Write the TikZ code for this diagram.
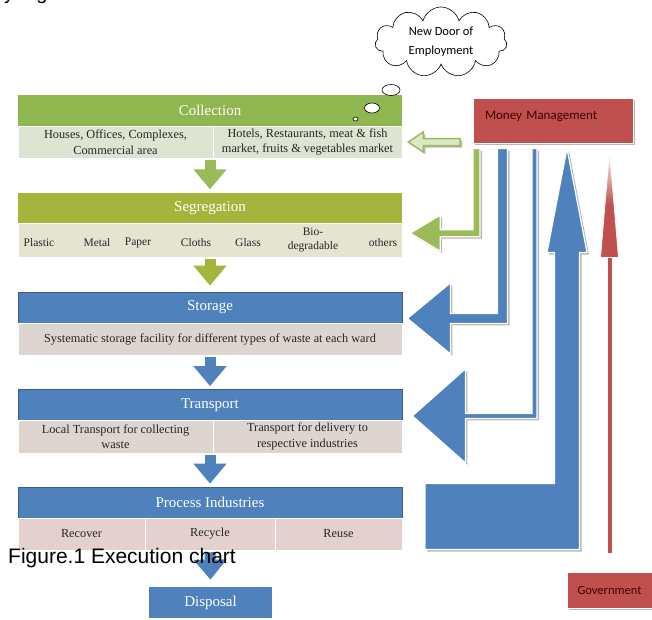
\documentclass[tikz,border=0pt]{standalone}
\usepackage{fontspec}
\setmainfont{Liberation Serif}
\newfontfamily\calibri{Carlito}
\newfontfamily\arial{Liberation Sans}
\usetikzlibrary{positioning,calc,arrows.meta,shapes.symbols,shapes.geometric,shadows}

\definecolor{headgreen}{HTML}{8FB74F}
\definecolor{headolive}{HTML}{A5B43A}
\definecolor{headblue}{HTML}{4F81BD}
\definecolor{edgeblue}{HTML}{385D8A}
\definecolor{rowgreen}{HTML}{DDE4D2}
\definecolor{rowolive}{HTML}{E4E4D0}
\definecolor{rowpink}{HTML}{DED4D0}
\definecolor{rowrose}{HTML}{E5D0D0}
\definecolor{arrowgreen}{HTML}{9BBB59}
\definecolor{moneyred}{HTML}{C0504D}

\tikzset{
	head/.style={minimum width=384pt, minimum height=31pt, inner sep=0pt, text=white, font=\fontsize{15}{15}\selectfont},
	greenhead/.style={head, fill=headgreen},
	olivehead/.style={head, fill=headolive},
	bluehead/.style={head, fill=headblue, draw=edgeblue, line width=0.8pt},
	cell/.style={minimum height=32pt, inner sep=0pt, draw=white, line width=0.5pt, align=center, text=black!85, font=\fontsize{12.3}{15.5}\selectfont},
	item/.style={inner sep=0pt, align=center, text=black!85, font=\fontsize{11.5}{13.5}\selectfont},
	downarrow/.style={line width=11pt, -{Triangle[width=32pt,length=20pt]}, shorten <=2pt, shorten >=3pt},
	sideshadow/.style={drop shadow={shadow xshift=2pt, shadow yshift=-2pt, fill=black!40, opacity=0.7}},
	sidearrow/.style={draw=white, line width=1.2pt, sideshadow},
	moneybox/.style={fill=moneyred, draw=white, line width=1pt, sideshadow, minimum width=160pt, minimum height=45pt, text width=136pt, inner xsep=12pt, text depth=10pt, align=left, text=black!75!red, font=\calibri\fontsize{13}{13}\selectfont},
	govbox/.style={fill=moneyred, draw=white, line width=1pt, sideshadow, minimum width=85pt, minimum height=36pt, inner sep=0pt, text=black!75!red, font=\calibri\fontsize{12.5}{13}\selectfont},
	thought/.style={cloud, cloud puffs=11, aspect=1.9, draw, fill=white, line width=0.6pt, minimum width=132pt, minimum height=70pt, align=center, inner sep=0pt, font=\calibri\fontsize{12.5}{19}\selectfont},
	bubble/.style={ellipse, draw, fill=white, line width=0.6pt, inner sep=0pt}
}

% block arrow going down from #2 and then left to the tip #3
\newcommand{\elbowarrow}[6]{%
	\path[#1] let \p1=#2, \p2=#3 in
		(\x1+#4,\y1) -- (\x1+#4,\y2-#4) -- (\x2+#6,\y2-#4) -- (\x2+#6,\y2-#5) -- (\p2)
		-- (\x2+#6,\y2+#5) -- (\x2+#6,\y2+#4) -- (\x1-#4,\y2+#4) -- (\x1-#4,\y1) -- cycle;}

\begin{document}
\begin{tikzpicture}[x=1pt, y=-1pt]
	\path[use as bounding box, fill=white] (0,0) rectangle (652,619);

	% text cut at the top edge
	\node[anchor=base west, inner sep=0pt, font=\arial\fontsize{20}{20}\selectfont] (cut) at (4,-1) {y Figure};

	% Collection
	\node[greenhead] (coll) at (210,110) {Collection};
	\node[cell, fill=rowgreen, minimum width=195pt] (collA) at (115.5,142) {Houses, Offices, Complexes,\\Commercial area};
	\node[cell, fill=rowgreen, minimum width=189pt] (collB) at (307.5,142) {Hotels, Restaurants, meat \& fish\\market, fruits \& vegetables market};

	% Segregation
	\node[olivehead] (seg) at (210,208) {Segregation};
	\node[cell, fill=rowolive, minimum width=384pt, minimum height=34pt] (segrow) at (210,240) {};
	\node[item] (plastic) at (39,243) {Plastic};
	\node[item] (metal) at (97,243) {Metal};
	\node[item] (paper) at (138,243) {Paper};
	\node[item] (cloths) at (196,243) {Cloths};
	\node[item] (glass) at (248,243) {Glass};
	\node[item] (bio) at (313,240) {Bio-\\degradable};
	\node[item] (others) at (383,243) {others};

	% Storage
	\node[bluehead] (stor) at (210,307.5) {Storage};
	\node[cell, fill=rowpink, minimum width=384pt] (storrow) at (210,339) {Systematic storage facility for different types of waste at each ward};

	% Transport
	\node[bluehead] (trans) at (210,405) {Transport};
	\node[cell, fill=rowpink, minimum width=195pt, minimum height=33pt] (transA) at (115.5,436.5) {Local Transport for collecting\\waste};
	\node[cell, fill=rowpink, minimum width=189pt, minimum height=33pt] (transB) at (307.5,436.5) {Transport for delivery to\\respective industries};

	% Process Industries
	\node[bluehead] (proc) at (210,502.5) {Process Industries};
	\node[cell, fill=rowrose, minimum width=127pt] (recover) at (81.5,534) {Recover};
	\node[cell, fill=rowrose, minimum width=130pt] (recycle) at (210,534) {Recycle};
	\node[cell, fill=rowrose, minimum width=127pt] (reuse) at (338.5,534) {Reuse};

	\node[bluehead, draw=none, minimum width=123pt] (disp) at (210.5,602.5) {Disposal};

	% arrows down the chart
	\draw[downarrow, arrowgreen] (coll |- collA.south) -- (seg.north);
	\draw[downarrow, headolive, shorten >=6pt] (segrow.south) -- (stor.north);
	\draw[downarrow, headblue] (storrow.south) -- (trans.north);
	\draw[downarrow, headblue] (trans |- transA.south) -- (proc.north);
	\draw[downarrow, headblue, shorten >=7pt] (recycle.south) -- (disp.north);

	\node[anchor=base west, inner sep=0pt, font=\arial\fontsize{21}{21}\selectfont] (caption) at (8,563) {Figure.1 Execution chart};

	% right side
	\node[moneybox] (money) at (553,120.5) {Money Management};
	\node[govbox] (gov) at (609.5,590) {Government};

	\coordinate (colltail) at (460,142);
	\coordinate (bigtail) at (425,516.5);

	\path[sidearrow, fill=arrowgreen!35, draw=arrowgreen, line width=1.5pt] let \p1=(colltail), \p2=($(collB.east)+(6,0)$) in
		(\x1,\y2+3.5pt) -- (\x2+15pt,\y2+3.5pt) -- (\x2+15pt,\y2+10pt) -- (\p2)
		-- (\x2+15pt,\y2-10pt) -- (\x2+15pt,\y2-3.5pt) -- (\x1,\y2-3.5pt) -- cycle;

	\elbowarrow{sidearrow, fill=arrowgreen}{($(money.south west)+(4,5)$)}{($(seg.south east)+(8,9.5)$)}{3.5pt}{18pt}{30pt}
	\elbowarrow{sidearrow, fill=headblue}{($(money.south west)+(30,5)$)}{($(stor.south east)+(5,-5)$)}{5pt}{35.5pt}{43pt}
	\elbowarrow{sidearrow, fill=headblue}{($(money.south west)+(62,5)$)}{($(trans.south east)+(10,-5)$)}{2.5pt}{47pt}{53pt}

	\path[sidearrow, fill=headblue] let \p1=(bigtail), \p2=($(money.south)+(14,5)$) in
		(\x1,\y1+33pt) -- (\x2-12.5pt,\y1+33pt) -- (\x2-12.5pt,\y2-104pt) -- (\x2-20pt,\y2-104pt) -- (\p2)
		-- (\x2+20pt,\y2-104pt) -- (\x2+12.5pt,\y2-104pt) -- (\x2+12.5pt,\y1-33pt) -- (\x1,\y1-33pt) -- cycle;

	\draw[moneyred, line width=4pt, shorten <=19pt] (gov.north) -- ($(money.south -| gov.north)+(0,113)$);
	\path[draw=white, line width=0.8pt, top color=white, bottom color=moneyred, middle color=moneyred] let \p2=($(money.south -| gov.north)+(0,7)$) in
		(\p2) -- (\x2+9pt,\y2-107pt) -- (\x2-9pt,\y2-107pt) -- cycle;

	% thought cloud
	\node[thought] (cloud) at (441,42) {New Door of\\Employment};
	\node[bubble, minimum width=18pt, minimum height=11pt] (b1) at (391,90) {};
	\node[bubble, minimum width=15pt, minimum height=10pt] (b2) at (372,108) {};
	\node[bubble, minimum width=5pt, minimum height=4pt] (b3) at (355.5,119) {};
\end{tikzpicture}
\end{document}
